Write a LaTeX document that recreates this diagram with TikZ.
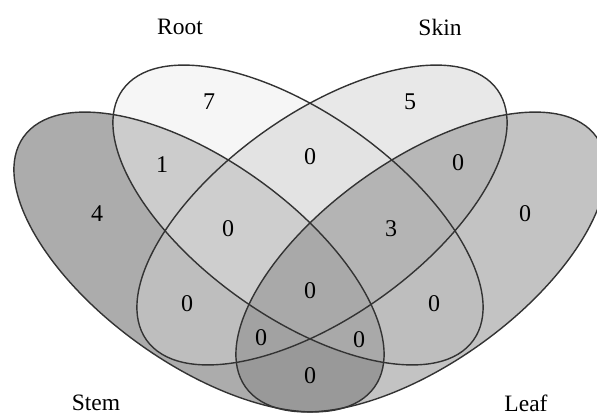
\documentclass[tikz,border=0pt]{standalone}
\usepackage{fontspec}
\setmainfont{Liberation Serif}
\begin{document}
\begin{tikzpicture}[x=1pt,y=1pt,
  lbl/.style={font=\fontsize{23.5}{26}\selectfont, inner sep=0pt},
  num/.style={font=\fontsize{24}{26}\selectfont, inner sep=0pt},
  edge/.style={draw=black!80, line width=1.4pt}]
\definecolor{fStem}{gray}{0.35}
\definecolor{fRoot}{gray}{0.93}
\definecolor{fSkin}{gray}{0.82}
\definecolor{fLeaf}{gray}{0.53}
\useasboundingbox (0,0) rectangle (597,-416);
\clip (0,0) rectangle (597,-416);
% fills
\fill[fStem, fill opacity=0.5, rotate around={-35.5:(199,-262)}] (199,-262) ellipse [x radius=215.5, y radius=101.4];
\fill[fRoot, fill opacity=0.5, rotate around={-35.5:(298,-215)}] (298,-215) ellipse [x radius=215.5, y radius=101.4];
\fill[fSkin, fill opacity=0.5, rotate around={35.5:(322,-215)}] (322,-215) ellipse [x radius=215.5, y radius=101.4];
\fill[fLeaf, fill opacity=0.5, rotate around={35.5:(421,-262)}] (421,-262) ellipse [x radius=215.5, y radius=101.4];
% outlines
\draw[edge, rotate around={-35.5:(199,-262)}] (199,-262) ellipse [x radius=215.5, y radius=101.4];
\draw[edge, rotate around={-35.5:(298,-215)}] (298,-215) ellipse [x radius=215.5, y radius=101.4];
\draw[edge, rotate around={35.5:(322,-215)}] (322,-215) ellipse [x radius=215.5, y radius=101.4];
\draw[edge, rotate around={35.5:(421,-262)}] (421,-262) ellipse [x radius=215.5, y radius=101.4];
% category labels
\node[lbl] (lroot) at (180,-27) {Root};
\node[lbl] (lskin) at (440,-27) {Skin};
\node[lbl] (lstem) at (96,-403) {Stem};
\node[lbl] (lleaf) at (526,-403) {Leaf};
% counts
\node[num] (r7) at (209,-102) {7};
\node[num] (k5) at (410,-102) {5};
\node[num] (sr1) at (162,-165) {1};
\node[num] (rk0) at (310,-157) {0};
\node[num] (kl0) at (458,-163) {0};
\node[num] (s4) at (97,-214) {4};
\node[num] (srk0) at (228,-229) {0};
\node[num] (rkl3) at (391,-229) {3};
\node[num] (l0) at (525,-214) {0};
\node[num] (all0) at (310,-291) {0};
\node[num] (sk0) at (187,-304) {0};
\node[num] (rl0) at (434,-304) {0};
\node[num] (skl0) at (261,-338) {0};
\node[num] (srl0) at (359,-340) {0};
\node[num] (sl0) at (310,-376) {0};
\end{tikzpicture}
\end{document}
